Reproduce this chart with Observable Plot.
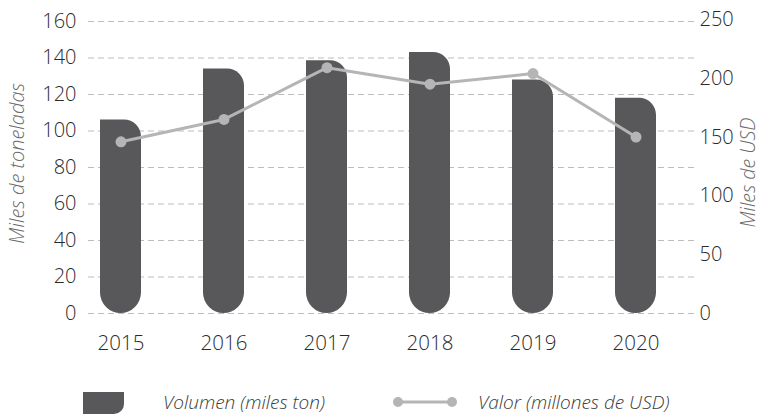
<!DOCTYPE html>
<html>
<head>
<meta charset="utf-8">
<script src="https://cdn.jsdelivr.net/npm/d3@7"></script>
<script src="https://cdn.jsdelivr.net/npm/@observablehq/plot@0.6"></script>
<style>
  body { margin: 0; background: #fff; font-family: "Open Sans", sans-serif; }
  #wrap { position: relative; width: 760px; height: 414px; }
  #legend { position: absolute; left: 0; top: 389px; width: 760px; height: 26px; font-style: italic; font-weight: 300; font-size: 19px; color: #3a3a3a; }
  #legend .item { position: absolute; top: 0; display: flex; align-items: center; }
</style>
</head>
<body>
<div id="wrap">
  <div id="chart"></div>
  <div id="legend">
    <div class="item" style="left:83px">
      <svg width="41" height="24"><path d="M0,2 H41 V14 A10,10 0 0 1 31,24 H0 Z" fill="#58585a"/></svg>
      <span style="margin-left:39px">Volumen (miles ton)</span>
    </div>
    <div class="item" style="left:392px">
      <svg width="66" height="24"><line x1="6" y1="12" x2="60" y2="12" stroke="#b5b5b5" stroke-width="3"/><circle cx="6" cy="12" r="5" fill="#b5b5b5"/><circle cx="60" cy="12" r="5" fill="#b5b5b5"/></svg>
      <span style="margin-left:20px">Valor (millones de USD)</span>
    </div>
  </div>
</div>
<script>
const years = ["2015", "2016", "2017", "2018", "2019", "2020"];
const volumen = [106, 134, 138.5, 143, 128, 118];
const valor = [146, 165, 209, 195, 204, 150];
const leftTicks = [0, 20, 40, 60, 80, 100, 120, 140, 160];
const rightTicks = [0, 50, 100, 150, 200, 250];
const leftLabel = "Miles de toneladas";
const rightLabel = "Miles de USD";

const ratio = 250 / 160 * (291 / 293);
const data = years.map((y, i) => ({year: y, vol: volumen[i], val: valor[i], valScaled: valor[i] / ratio}));

const chart = Plot.plot({
  width: 760,
  height: 370,
  marginLeft: 88,
  marginRight: 65,
  marginTop: 21,
  marginBottom: 57,
  style: {fontFamily: "Open Sans", fontWeight: 300, fontSize: "20px", color: "#2a2a2a", background: "#fff"},
  x: {domain: years, paddingInner: 0.6, paddingOuter: 0.234, align: 0.227},
  y: {domain: [0, 160], range: [313, 21]},
  marks: [
    Plot.ruleY(leftTicks, {stroke: "#bdbdbd", strokeDasharray: "6,4", strokeWidth: 1}),
    Plot.barY(data, {x: "year", y: "vol", fill: "#58585a", rx2y1: 17, ry2: 20.5, rx2: 20.5, rx1y2: 20.5}),
    Plot.line(data, {x: "year", y: "valScaled", stroke: "#b5b5b5", strokeWidth: 3}),
    Plot.dot(data, {x: "year", y: "valScaled", fill: "#b5b5b5", r: 5.5}),
    Plot.axisX({tickSize: 0, tickPadding: 22, fontSize: 20.5, fill: "#2a2a2a", label: null}),
    Plot.axisY(leftTicks, {anchor: "left", tickSize: 0, tickPadding: 12, fontSize: 20, fill: "#2a2a2a", label: null}),
    Plot.axisY(rightTicks.map(d => d / ratio), {anchor: "right", tickSize: 0, tickPadding: 4, fontSize: 20, fill: "#2a2a2a", label: null, tickFormat: d => String(Math.round(d * ratio))}),
    Plot.text([leftLabel], {frameAnchor: "left", textAnchor: "middle", lineAnchor: "middle", rotate: -90, dx: -71, dy: -4, fill: "#6a6a6a", fontStyle: "italic", fontSize: 20, fontWeight: 300}),
    Plot.text([rightLabel], {frameAnchor: "right", textAnchor: "middle", lineAnchor: "middle", rotate: -90, dx: 53, dy: 5, fill: "#6a6a6a", fontStyle: "italic", fontSize: 19.5, fontWeight: 300})
  ]
});
document.getElementById("chart").appendChild(chart);
</script>
</body>
</html>
